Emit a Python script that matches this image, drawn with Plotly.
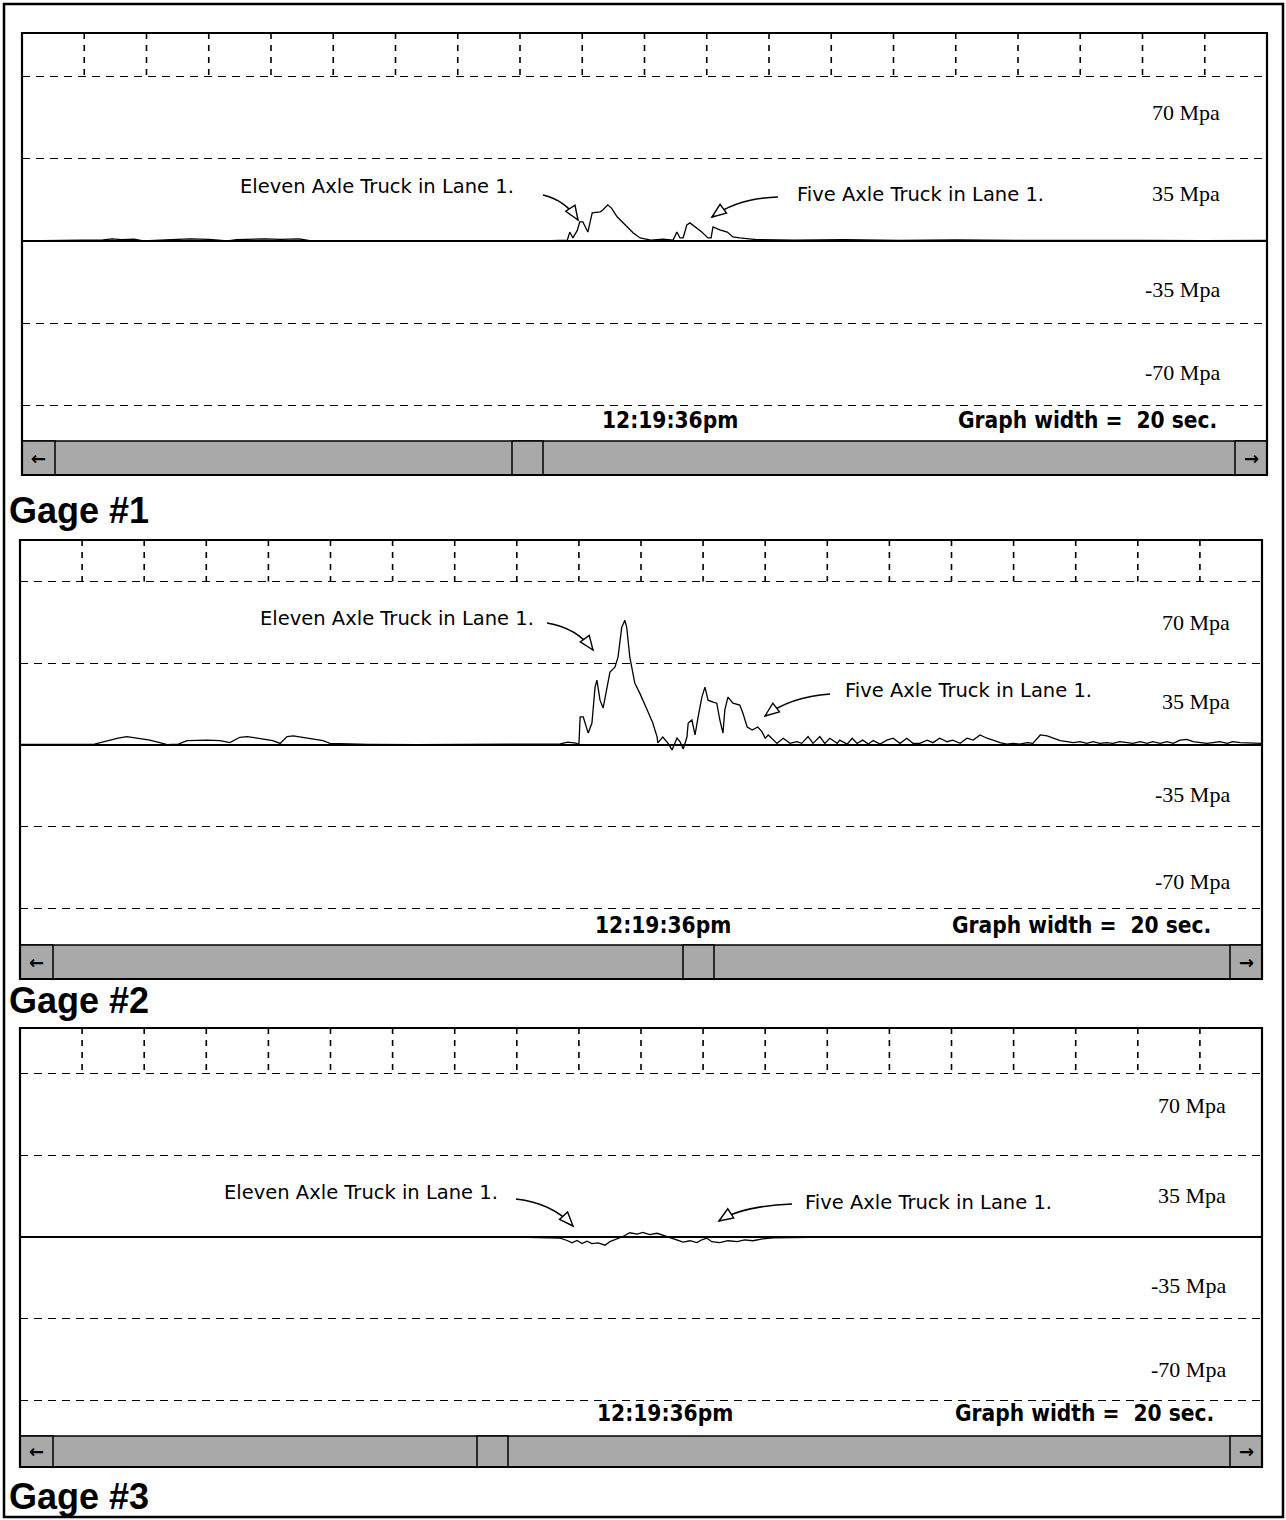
import plotly.graph_objects as go

W, H = 1286, 1520

# ---------------- data ----------------
graph_seconds = 20
tick_seconds = list(range(1, 20))
grid_levels = [70, 35, -35, -70]
level_labels = ["70 Mpa", "35 Mpa", "-35 Mpa", "-70 Mpa"]
time_stamp = "12:19:36pm"
graph_width_note = "Graph width =  20 sec."
gage_names = ["Gage #1", "Gage #2", "Gage #3"]
eleven_axle_note = "Eleven Axle Truck in Lane 1."
five_axle_note = "Five Axle Truck in Lane 1."

# stress traces: time (s) within the 20 s window, stress (MPa)
gage1_t = [0.0, 1.30, 1.45, 1.60, 1.80, 1.95, 2.40, 2.70, 3.00, 3.30, 3.45, 3.90, 4.15, 4.45,
           4.65, 4.80, 6.50, 8.50, 8.76, 8.80, 8.85, 8.92, 8.96, 9.01, 9.09, 9.16, 9.29, 9.33,
           9.41, 9.47, 9.56, 9.61, 9.72, 9.82, 9.93, 10.10, 10.30, 10.46, 10.52, 10.57, 10.62,
           10.68, 10.73, 10.84, 10.92, 11.02, 11.07, 11.10, 11.21, 11.33, 11.42, 11.53, 11.80,
           12.40, 13.20, 14.10, 15.00, 16.00, 17.00, 18.00, 19.00, 20.00]
gage1_mpa = [0.0, 0.5, 0.9, 0.6, 0.8, 0.0, 0.6, 0.9, 0.7, 0.0, 0.6, 0.9, 0.7, 0.9,
             0.0, 0.0, 0.0, 0.2, 0.4, 3.8, 1.3, 4.5, 8.1, 8.1, 3.8, 12.0, 12.4, 13.2,
             15.4, 14.0, 10.3, 9.0, 6.0, 3.4, 1.3, 0.4, 0.8, 0.4, 3.8, 1.3, 1.3,
             6.8, 7.7, 5.5, 3.8, 1.3, 1.3, 6.0, 4.7, 3.8, 1.7, 1.3, 0.6,
             0.4, 0.6, 0.3, 0.5, 0.3, 0.4, 0.3, 0.2, 0.3]

gage2_t = [0.0, 0.6, 1.2, 1.58, 1.72, 1.88, 2.09, 2.25, 2.37, 2.55, 2.69, 3.01, 3.22, 3.38,
           3.54, 3.66, 3.86, 4.07, 4.19, 4.30, 4.40, 4.62, 4.88, 4.99, 5.60, 6.40, 7.20, 8.00,
           8.70, 8.82, 8.95, 9.00, 9.02, 9.07, 9.15, 9.21, 9.26, 9.29, 9.34, 9.39, 9.45, 9.50,
           9.58, 9.63, 9.69, 9.74, 9.77, 9.82, 9.90, 9.98, 10.10, 10.19, 10.26, 10.27, 10.35,
           10.43, 10.50, 10.58, 10.63, 10.68, 10.74, 10.76, 10.82, 10.87, 10.92, 10.98, 11.03,
           11.08, 11.16, 11.22, 11.27, 11.32, 11.35, 11.40, 11.48, 11.59, 11.64, 11.71, 11.79,
           11.88, 11.95, 12.00, 12.05, 12.13, 12.19,
           12.29, 12.40, 12.51, 12.59, 12.69, 12.77, 12.88, 12.96, 13.04, 13.16, 13.20, 13.32,
           13.40, 13.48, 13.57, 13.66, 13.74, 13.85, 13.96, 14.06, 14.17, 14.28, 14.38, 14.49,
           14.61, 14.70, 14.81, 14.93, 15.02, 15.14, 15.25, 15.35, 15.46, 15.57, 15.67, 15.78,
           15.89, 15.99, 16.10, 16.22, 16.31, 16.38, 16.43, 16.54, 16.63, 16.75, 16.86, 16.96,
           17.07, 17.18, 17.28, 17.39, 17.50, 17.60, 17.71, 17.83, 17.92, 18.04, 18.15, 18.24,
           18.36, 18.47, 18.57, 18.68, 18.79, 18.89, 19.00, 19.11, 19.21, 19.32, 19.44, 19.53,
           19.65, 20.00]
gage2_mpa = [0.3, 0.2, 0.4, 2.9, 3.6, 2.9, 2.1, 1.0, 0.2, 0.4, 1.9, 2.1, 1.9, 1.0,
             3.3, 3.6, 2.9, 1.9, 0.7, 3.6, 3.9, 2.9, 1.9, 0.7, 0.3, 0.2, 0.3, 0.2,
             0.5, 1.2, 0.8, 0.3, 12.0, 12.0, 5.1, 9.4, 24.8, 27.8, 19.2, 15.8, 23.5, 31.2,
             33.3, 37.6, 50.4, 53.4, 50.4, 37.6, 26.5, 22.2, 15.0, 9.4, 3.4, 0.9, 3.4,
             0.9, -2.1, 3.0, 1.3, -1.7, 3.4, 9.4, 10.7, 4.3, 12.0, 20.5, 24.8,
             19.2, 18.4, 17.9, 10.7, 5.1, 15.0, 20.5, 17.9, 17.1, 13.7, 7.7, 6.4,
             7.7, 5.6, 2.9, 4.3, 2.1, 0.7,
             2.9, 0.7, 1.4, 0.7, 3.6, 0.7, 3.6, 0.7, 2.9, 0.7, 2.1, 0.4,
             2.9, 0.7, 2.1, 0.4, 1.9, 0.4, 2.1, 2.9, 0.7, 2.9, 0.7, 0.7,
             2.1, 1.0, 2.9, 1.4, 2.1, 0.7, 2.9, 2.1, 4.3, 2.9, 2.1, 1.0,
             0.4, 0.7, 0.4, 1.0, 0.7, 2.9, 4.3, 3.9, 2.9, 1.9, 1.4, 1.0,
             1.4, 0.7, 1.4, 0.7, 1.0, 0.7, 1.4, 1.0, 0.7, 1.4, 0.7, 1.4,
             0.7, 1.4, 0.7, 2.1, 2.4, 1.4, 1.0, 0.7, 1.0, 1.4, 0.7, 1.4,
             1.0, 0.7]

gage3_t = [0.0, 2.0, 4.0, 6.0, 8.0, 8.70, 8.81, 8.89, 8.97, 9.05, 9.13, 9.21, 9.31, 9.42,
           9.50, 9.61, 9.71, 9.82, 9.94, 10.03, 10.14, 10.26, 10.35, 10.43, 10.58, 10.68,
           10.79, 10.90, 10.98, 11.06, 11.14, 11.27, 11.40, 11.55, 11.67, 11.80, 11.96, 12.13,
           13.0, 14.5, 16.0, 17.5, 19.0, 20.0]
gage3_mpa = [0.0, 0.2, 0.0, 0.2, 0.0, -0.5, -1.5, -2.5, -1.5, -2.8, -1.8, -2.8, -2.5, -3.5,
             -2.0, -0.8, 0.2, 1.8, 1.2, 2.0, 1.0, 1.6, 0.8, 0.2, -1.0, -2.2,
             -1.6, -2.4, -1.2, -0.5, -2.0, -2.4, -1.6, -2.0, -1.2, -1.6, -0.8, -0.4,
             0.0, 0.2, 0.0, 0.2, 0.0, 0.0]

series = [(gage1_t, gage1_mpa), (gage2_t, gage2_mpa), (gage3_t, gage3_mpa)]

# ---------------- page geometry (pixels) ----------------
panels = [
    dict(left=22, right=1267, top=33, zero=241, unit=82.25, bottom=441, bar_bottom=475,
         thumb=512, label_right=1222, label_y=[112, 193, 289, 372], note_y=420,
         stamp_x=670, width_x=1087, name_y=510,
         eleven_text=(238, 187), eleven_arrow=((543, 195), (565, 200), (578, 220)),
         five_text=(795, 195), five_arrow=((778, 197), (738, 198), (712, 217))),
    dict(left=20, right=1262, top=540, zero=745, unit=81.75, bottom=945, bar_bottom=979,
         thumb=683, label_right=1232, label_y=[622, 702, 794, 881], note_y=925,
         stamp_x=663, width_x=1081, name_y=1000,
         eleven_text=(258, 618), eleven_arrow=((547, 623), (577, 628), (593, 650)),
         five_text=(843, 690), five_arrow=((830, 694), (790, 697), (765, 716))),
    dict(left=20, right=1262, top=1028, zero=1237, unit=81.75, bottom=1436, bar_bottom=1467,
         thumb=477, label_right=1228, label_y=[1105, 1195, 1285, 1369], note_y=1413,
         stamp_x=665, width_x=1084, name_y=1496,
         eleven_text=(222, 1192), eleven_arrow=((516, 1199), (552, 1203), (573, 1226))),
]
panels[2]["five_text"] = (803, 1202)
panels[2]["five_arrow"] = ((792, 1204), (742, 1206), (719, 1221))

BAR_GRAY = "#a9a9a9"
NOTE_FONT = dict(family="DejaVu Sans, Verdana, sans-serif", size=19.5, color="black")
MPA_FONT = dict(family="Times New Roman, Liberation Serif, serif", size=22, color="black")
STAMP_FONT = dict(family="DejaVu Sans Condensed, Liberation Sans Narrow, sans-serif",
                  size=22.5, color="black")
NAME_FONT = dict(family="Arial, Liberation Sans, sans-serif", size=36, color="black")


def fx(x):
    return x / W


def fy(y):
    return 1 - y / H


fig = go.Figure()
shapes = []
annotations = []
layout_axes = {}


def curved_arrow(tail, ctrl, tip):
    """Quadratic curve with an open triangular head at the tip (pixel coords)."""
    path = (f"M {fx(tail[0])},{fy(tail[1])} Q {fx(ctrl[0])},{fy(ctrl[1])} "
            f"{fx(tip[0])},{fy(tip[1])}")
    shapes.append(dict(type="path", xref="paper", yref="paper", path=path,
                       line=dict(color="black", width=1.6)))
    dx, dy = tip[0] - ctrl[0], tip[1] - ctrl[1]
    n = (dx * dx + dy * dy) ** 0.5
    ux, uy = dx / n, dy / n
    length, half = 14, 5.5
    bx, by = tip[0] - ux * length, tip[1] - uy * length
    c1 = (bx - uy * half, by + ux * half)
    c2 = (bx + uy * half, by - ux * half)
    head = (f"M {fx(tip[0])},{fy(tip[1])} L {fx(c1[0])},{fy(c1[1])} "
            f"L {fx(c2[0])},{fy(c2[1])} Z")
    shapes.append(dict(type="path", xref="paper", yref="paper", path=head,
                       fillcolor="white", line=dict(color="black", width=1.4)))


for i, (p, (t, v)) in enumerate(zip(panels, series)):
    n = "" if i == 0 else str(i + 1)
    xa, ya = "x" + n, "y" + n
    scale = 35.0 / p["unit"]
    y_hi = (p["zero"] - p["top"]) * scale
    y_lo = -(p["bottom"] - p["zero"]) * scale

    layout_axes["xaxis" + n] = dict(
        domain=[fx(p["left"]), fx(p["right"])], range=[0, graph_seconds], anchor=ya,
        showgrid=False, zeroline=False, showticklabels=False, ticks="", showline=False,
        fixedrange=True)
    layout_axes["yaxis" + n] = dict(
        domain=[fy(p["bottom"]), fy(p["top"])], range=[y_lo, y_hi], anchor=xa,
        tickvals=grid_levels, showticklabels=False, ticks="", showline=False,
        showgrid=True, gridcolor="black", gridwidth=1.4, griddash="8px,6px",
        zeroline=True, zerolinecolor="black", zerolinewidth=1.8, fixedrange=True)

    # short dashed second marks along the top edge
    tx, ty = [], []
    for s in tick_seconds:
        tx += [s, s, None]
        ty += [y_hi, grid_levels[0], None]
    fig.add_trace(go.Scatter(x=tx, y=ty, xaxis=xa, yaxis=ya, mode="lines",
                             line=dict(color="black", width=1.6, dash="6px,6px"),
                             hoverinfo="skip", showlegend=False))

    # stress trace
    fig.add_trace(go.Scatter(x=t, y=v, xaxis=xa, yaxis=ya, mode="lines",
                             line=dict(color="black", width=1.3),
                             name=gage_names[i], showlegend=False))

    # scroll bar
    shapes.append(dict(type="rect", xref="paper", yref="paper",
                       x0=fx(p["left"]), x1=fx(p["right"]),
                       y0=fy(p["bar_bottom"]), y1=fy(p["bottom"]),
                       fillcolor=BAR_GRAY, line=dict(color="black", width=1.5)))
    for bx0, bx1 in [(p["left"], p["left"] + 33), (p["right"] - 32, p["right"]),
                     (p["thumb"], p["thumb"] + 31)]:
        shapes.append(dict(type="rect", xref="paper", yref="paper",
                           x0=fx(bx0), x1=fx(bx1),
                           y0=fy(p["bar_bottom"]), y1=fy(p["bottom"]),
                           fillcolor=BAR_GRAY, line=dict(color="black", width=1.5)))
    bar_mid = (p["bottom"] + p["bar_bottom"]) / 2
    annotations.append(dict(x=fx(p["left"] + 16.5), y=fy(bar_mid), xref="paper", yref="paper",
                            text="<b>←</b>", showarrow=False, xanchor="center",
                            yanchor="middle", font=dict(size=18, color="black",
                                                        family="DejaVu Sans")))
    annotations.append(dict(x=fx(p["right"] - 16), y=fy(bar_mid), xref="paper", yref="paper",
                            text="<b>→</b>", showarrow=False, xanchor="center",
                            yanchor="middle", font=dict(size=18, color="black",
                                                        family="DejaVu Sans")))

    # panel frame
    shapes.append(dict(type="rect", xref="paper", yref="paper",
                       x0=fx(p["left"]), x1=fx(p["right"]),
                       y0=fy(p["bar_bottom"]), y1=fy(p["top"]),
                       line=dict(color="black", width=2.2)))

    # level labels
    for lab, ly in zip(level_labels, p["label_y"]):
        annotations.append(dict(x=fx(p["label_right"]), y=fy(ly), xref="paper", yref="paper",
                                text=lab, showarrow=False, xanchor="right",
                                yanchor="middle", font=MPA_FONT))

    # time stamp and graph width
    annotations.append(dict(x=fx(p["stamp_x"]), y=fy(p["note_y"]), xref="paper", yref="paper",
                            text=f"<b>{time_stamp}</b>", showarrow=False, xanchor="center",
                            yanchor="middle", font=STAMP_FONT))
    annotations.append(dict(x=fx(p["width_x"]), y=fy(p["note_y"]), xref="paper", yref="paper",
                            text=f"<b>{graph_width_note}</b>", showarrow=False,
                            xanchor="center", yanchor="middle", font=STAMP_FONT))

    # truck notes with curved arrows
    ex, ey = p["eleven_text"]
    annotations.append(dict(x=fx(ex), y=fy(ey), xref="paper", yref="paper",
                            text=eleven_axle_note, showarrow=False, xanchor="left",
                            yanchor="middle", font=NOTE_FONT))
    curved_arrow(*p["eleven_arrow"])
    fxx, fyy = p["five_text"]
    annotations.append(dict(x=fx(fxx), y=fy(fyy), xref="paper", yref="paper",
                            text=five_axle_note, showarrow=False, xanchor="left",
                            yanchor="middle", font=NOTE_FONT))
    curved_arrow(*p["five_arrow"])

    # gage caption
    annotations.append(dict(x=fx(7), y=fy(p["name_y"]), xref="paper", yref="paper",
                            text=f"<b>{gage_names[i]}</b>", showarrow=False,
                            xanchor="left", yanchor="middle", font=NAME_FONT))

# page border
shapes.append(dict(type="rect", xref="paper", yref="paper",
                   x0=fx(4), x1=fx(1283), y0=fy(1517), y1=fy(4),
                   line=dict(color="black", width=2.5)))

fig.update_layout(
    width=W, height=H,
    margin=dict(l=0, r=0, t=0, b=0),
    paper_bgcolor="white", plot_bgcolor="white",
    showlegend=False,
    shapes=shapes, annotations=annotations,
    **layout_axes,
)

fig.write_html("out.html")
